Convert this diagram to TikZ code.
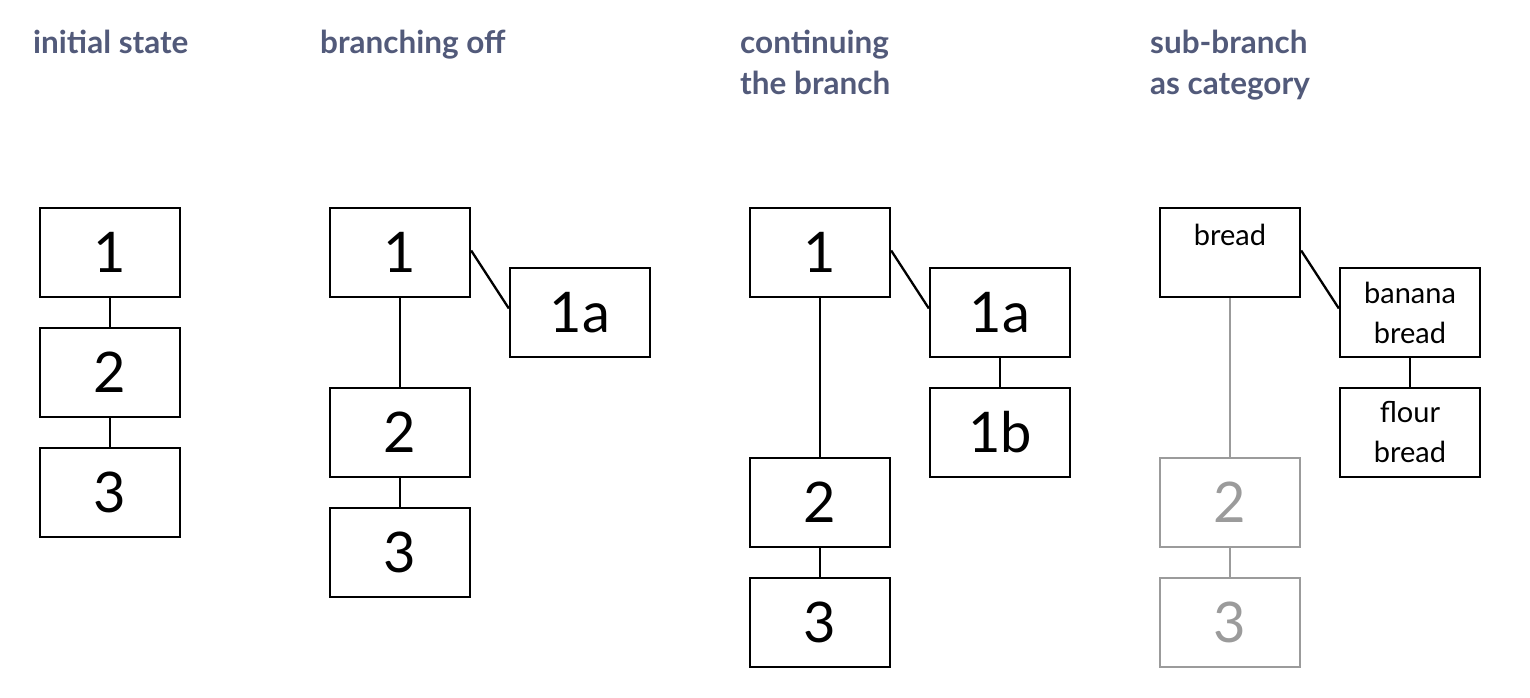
\documentclass[tikz,border=0pt]{standalone}
\usepackage{fontspec}
\setmainfont{Lato}
\definecolor{titlec}{RGB}{82,90,122}
\definecolor{greyc}{RGB}{155,155,155}
\begin{document}
\begin{tikzpicture}[x=1pt,y=-1pt,
  box/.style={draw, line width=2.3pt, minimum width=140pt, minimum height=89pt, inner sep=0pt, font=\fontsize{56}{56}\selectfont},
  gbox/.style={box, draw=greyc, text=greyc},
  tbox/.style={box, font=\fontsize{29}{40}\selectfont, align=center},
  link/.style={line width=2.3pt},
  glink/.style={link, draw=greyc},
  ttl/.style={anchor=base west, inner sep=0pt, text=titlec, align=left, font=\fontsize{31.5}{41}\selectfont\bfseries}]
\useasboundingbox (0,0) rectangle (1530,698);
% titles
\node[ttl] (t1) at (33,54) {initial state};
\node[ttl] (t2) at (320,54) {branching off};
\node[ttl] (t3) at (740,95) {continuing\\the branch};
\node[ttl] (t4) at (1150,95) {sub-branch\\as category};
% column 1
\node[box] (a1) at (110,252.5) {1};
\node[box] (a2) at (110,372.5) {2};
\node[box] (a3) at (110,492.5) {3};
\draw[link] (a1.south) -- (a2.north);
\draw[link] (a2.south) -- (a3.north);
% column 2
\node[box] (b1) at (400,252.5) {1};
\node[box] (b1a) at (580,312.5) {1a};
\node[box] (b2) at (400,432.5) {2};
\node[box] (b3) at (400,552.5) {3};
\draw[link] ([yshift=2]b1.east) -- ([yshift=4]b1a.west);
\draw[link] (b1.south) -- (b2.north);
\draw[link] (b2.south) -- (b3.north);
% column 3
\node[box] (c1) at (820,252.5) {1};
\node[box] (c1a) at (1000,312.5) {1a};
\node[box] (c1b) at (1000,432.5) {1b};
\node[box] (c2) at (820,502.5) {2};
\node[box] (c3) at (820,622.5) {3};
\draw[link] ([yshift=2]c1.east) -- ([yshift=4]c1a.west);
\draw[link] (c1a.south) -- (c1b.north);
\draw[link] (c1.south) -- (c2.north);
\draw[link] (c2.south) -- (c3.north);
% column 4
\node[box] (d1) at (1230,252.5) {};
\node[anchor=base, inner sep=0pt, font=\fontsize{29}{29}\selectfont] (d1t) at (1230,245) {bread};
\node[tbox] (d1a) at (1410,312.5) {banana\\bread};
\node[tbox] (d1b) at (1410,432.5) {flour\\bread};
\node[gbox] (d2) at (1230,502.5) {2};
\node[gbox] (d3) at (1230,622.5) {3};
\draw[link] ([yshift=2]d1.east) -- ([yshift=4]d1a.west);
\draw[link] (d1a.south) -- (d1b.north);
\draw[glink] (d1.south) -- (d2.north);
\draw[glink] (d2.south) -- (d3.north);
\end{tikzpicture}
\end{document}
